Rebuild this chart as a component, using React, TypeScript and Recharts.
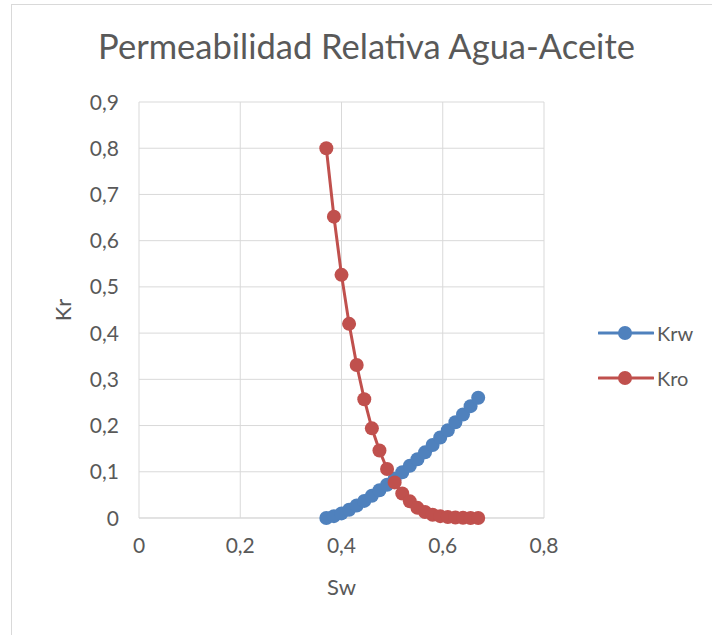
import { LineChart, Line, XAxis, YAxis, CartesianGrid } from "recharts";

const sw = [0.37, 0.385, 0.4, 0.415, 0.43, 0.445, 0.46, 0.475, 0.49, 0.505, 0.52, 0.535, 0.55, 0.565, 0.58, 0.595, 0.61, 0.625, 0.64, 0.655, 0.67];
const krw = [0, 0.004, 0.01, 0.018, 0.027, 0.037, 0.048, 0.06, 0.072, 0.085, 0.099, 0.113, 0.127, 0.142, 0.158, 0.174, 0.19, 0.207, 0.224, 0.242, 0.26];
const kro = [0.8, 0.652, 0.526, 0.42, 0.331, 0.257, 0.194, 0.146, 0.106, 0.077, 0.053, 0.036, 0.022, 0.013, 0.007, 0.004, 0.002, 0.001, 0.0004, 0.0001, 0];

const xTicks = [0, 0.2, 0.4, 0.6, 0.8];
const yTicks = [0, 0.1, 0.2, 0.3, 0.4, 0.5, 0.6, 0.7, 0.8, 0.9];

const series = [
  { key: "krw", name: "Krw", color: "#4F81BD" },
  { key: "kro", name: "Kro", color: "#C0504D" },
];

const data = sw.map((s, i) => ({ sw: s, krw: krw[i], kro: kro[i] }));

const FONT = "Lato, 'Open Sans', sans-serif";
const TEXT = "#595959";
const fmt = (v: number) => String(v).replace(".", ",");

const XTick = ({ x, y, payload }: any) => (
  <text x={x} y={y} dy="0.72em" textAnchor="middle" fill={TEXT} style={{ fontSize: 21, fontFamily: FONT }}>
    {fmt(payload.value)}
  </text>
);

const YTick = ({ x, y, payload }: any) => (
  <text x={x + 1} y={y} dy="0.36em" textAnchor="end" fill={TEXT} style={{ fontSize: 21, fontFamily: FONT }}>
    {fmt(payload.value)}
  </text>
);

const YTitle = ({ viewBox }: any) => {
  const cy = viewBox.y + viewBox.height / 2;
  return (
    <text x={62} y={cy} transform={`rotate(-90, 62, ${cy})`} textAnchor="middle" dominantBaseline="central" fill={TEXT} style={{ fontSize: 22, fontFamily: FONT }}>
      Kr
    </text>
  );
};

export default function App() {
  return (
    <div style={{ position: "absolute", left: 0, top: 0, width: 712, height: 635, overflow: "hidden", background: "#fff" }}>
      <div style={{ position: "absolute", left: 11, top: 4, width: 800, height: 800, border: "1px solid #d9d9d9" }} />
      <div style={{ position: "absolute", left: 0, top: 25, width: 733, textAlign: "center", fontFamily: FONT, fontSize: 34.5, color: TEXT, whiteSpace: "nowrap" }}>
        Permeabilidad Relativa Agua-Aceite
      </div>
      <div style={{ position: "absolute", left: 0, top: 0 }}>
        <LineChart width={712} height={635} data={data} margin={{ top: 102, right: 168, left: 79, bottom: 87 }}>
          <CartesianGrid stroke="#d9d9d9" strokeWidth={1} />
          <XAxis
            dataKey="sw"
            type="number"
            domain={[0, 0.8]}
            ticks={xTicks}
            height={30}
            tickLine={false}
            tickMargin={14}
            axisLine={{ stroke: "#d9d9d9" }}
            tick={<XTick />}
            label={{ value: "Sw", position: "bottom", offset: 31, fill: TEXT, style: { fontSize: 22, fontFamily: FONT } }}
          />
          <YAxis
            type="number"
            domain={[0, 0.9]}
            ticks={yTicks}
            width={60}
            tickLine={false}
            tickMargin={15}
            axisLine={false}
            tick={<YTick />}
            label={<YTitle />}
          />
          {series.map((s) => (
            <Line
              key={s.key}
              type="linear"
              dataKey={s.key}
              name={s.name}
              stroke={s.color}
              strokeWidth={3}
              dot={{ r: 7, fill: s.color, stroke: s.color, strokeWidth: 0 }}
              activeDot={false}
              isAnimationActive={false}
            />
          ))}
        </LineChart>
      </div>
      {series.map((s, i) => (
        <div key={s.key} style={{ position: "absolute", left: 598, top: 333 + i * 45 - 12, height: 24, display: "flex", alignItems: "center" }}>
          <svg width={56} height={24}>
            <line x1={1} y1={12} x2={55} y2={12} stroke={s.color} strokeWidth={3} strokeLinecap="round" />
            <circle cx={27} cy={12} r={7} fill={s.color} />
          </svg>
          <span style={{ marginLeft: 3, fontFamily: FONT, fontSize: 20, color: TEXT }}>{s.name}</span>
        </div>
      ))}
    </div>
  );
}
